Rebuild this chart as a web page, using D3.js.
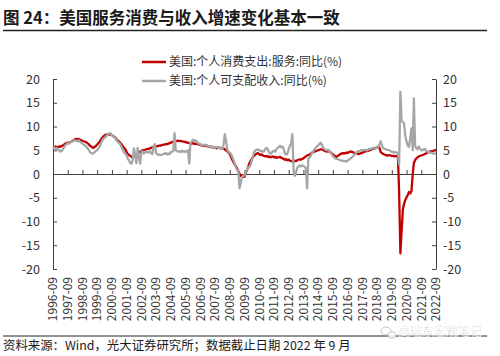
<!DOCTYPE html>
<html><head><meta charset="utf-8">
<script src="https://cdn.jsdelivr.net/npm/d3@7"></script>
<style>body{margin:0;background:#fff}svg{display:block}</style>
</head><body>
<svg id="c" width="500" height="356"></svg>
<script>
const titleText = "图 24：美国服务消费与收入增速变化基本一致";
const sourceText = "资料来源：Wind，光大证券研究所；数据截止日期 2022 年 9 月";
const seriesNames = ["美国:个人消费支出:服务:同比(%)", "美国:个人可支配收入:同比(%)"];
const startMonth = "1996-09";
const tickLabels = ["1996-09","1997-09","1998-09","1999-09","2000-09","2001-09","2002-09","2003-09","2004-09","2005-09","2006-09","2007-09","2008-09","2009-09","2010-09","2011-09","2012-09","2013-09","2014-09","2015-09","2016-09","2017-09","2018-09","2019-09","2020-09","2021-09","2022-09"];
const yTicks = [-20,-15,-10,-5,0,5,10,15,20];

// 美国:个人消费支出:服务:同比(%)  monthly from 1996-09
const serviceYoY = [
  5.7, 5.6, 5.8, 5.7,
  5.6, 5.8, 5.7, 5.9, 6.0, 6.2, 6.4, 6.5, 6.6, 6.5, 6.7, 6.8,
  7.0, 7.1, 7.3, 7.4, 7.3, 7.4, 7.2, 7.1, 7.0, 6.9, 6.8, 6.7,
  6.5, 6.3, 6.0, 5.8, 5.6, 5.5, 5.7, 5.9, 6.2, 6.5, 6.8, 7.2,
  7.6, 7.9, 8.1, 8.3, 8.2, 8.4, 8.3, 8.4, 8.2, 8.0, 7.8, 7.6,
  7.2, 7.0, 6.8, 6.5, 6.2, 5.8, 5.5, 5.2, 4.6, 4.2, 4.0, 3.8,
  3.6, 3.5, 3.6, 3.8, 4.0, 4.2, 4.5, 4.7, 4.8, 5.0, 5.0, 5.1,
  5.2, 5.3, 5.3, 5.4, 5.5, 5.6, 5.7, 5.8, 5.8, 5.9, 5.9, 6.0,
  6.0, 6.1, 6.2, 6.2, 6.3, 6.3, 6.4, 6.5, 6.6, 6.7, 6.8, 6.9,
  6.9, 7.0, 7.0, 6.9, 7.0, 6.9, 6.8, 6.8, 6.7, 6.6, 6.6, 6.5,
  6.5, 6.4, 6.5, 6.4, 6.3, 6.4, 6.3, 6.2, 6.1, 6.0, 6.0, 5.9,
  5.9, 6.0, 5.8, 5.7, 5.8, 5.6, 5.7, 5.5, 5.6, 5.4, 5.5, 5.6,
  5.4, 5.5, 5.3, 5.4, 5.2, 5.0, 4.8, 4.5, 4.2, 3.6, 3.0, 2.5,
  2.0, 1.6, 1.2, 0.6, 0.0, -0.4, -0.6, -0.5, -0.6, 0.2, 0.8, 1.5,
  2.3, 2.7, 3.2, 3.6, 3.9, 4.1, 4.3, 4.4, 4.2, 4.0, 4.1, 3.9,
  3.8, 3.7, 3.8, 3.6, 3.7, 3.5, 3.6, 3.7, 3.5, 3.6, 3.4, 3.5,
  3.5, 3.6, 3.4, 3.3, 3.2, 3.0, 3.1, 2.9, 3.0, 2.8, 2.7, 2.8,
  2.6, 2.8, 2.7, 2.9, 3.0, 3.1, 3.0, 3.2, 3.3, 3.5, 3.7, 3.9,
  4.0, 4.1, 4.3, 4.5, 4.6, 4.7, 4.8, 4.9, 5.0, 5.1, 5.2, 5.2,
  5.1, 4.9, 4.8, 4.7, 4.8, 4.7, 4.6, 4.4, 4.1, 3.9, 3.7, 3.6,
  3.8, 4.0, 4.2, 4.3, 4.4, 4.3, 4.4, 4.5, 4.4, 4.6, 4.7, 4.7,
  4.6, 4.5, 4.3, 4.4, 4.3, 4.2, 4.3, 4.4, 4.5, 4.6, 4.7, 4.8,
  4.8, 4.9, 5.0, 5.1, 5.2, 5.3, 5.4, 5.5, 5.6, 5.7, 5.5, 4.6,
  4.4, 4.2, 4.1, 4.0, 3.9, 3.9, 4.0, 3.9, 3.8, 3.8, 3.7, 3.8,
  3.7, 3.6, -4.0, -16.7, -12.0, -7.5, -6.3, -5.5, -4.9, -4.4, -3.8, -4.1,
  -3.6, 0.0, 2.3, 2.9, 3.3, 3.5, 3.7, 3.8, 3.9, 4.0, 4.1, 4.2,
  4.4, 4.5, 4.6, 4.7, 4.8, 4.8, 4.9, 5.0, 5.1
];

// 美国:个人可支配收入:同比(%)  monthly from 1996-09
const incomeYoY = [
  5.5, 5.6, 5.3, 5.5,
  5.2, 4.9, 4.7, 4.8, 5.2, 5.6, 6.0, 6.3, 6.5, 6.4, 6.6, 6.8,
  6.9, 7.0, 7.1, 7.0, 6.9, 7.1, 6.8, 6.6, 6.4, 6.2, 6.0, 5.8,
  5.5, 5.1, 4.7, 4.4, 4.3, 4.4, 4.6, 4.9, 5.0, 5.3, 5.8, 6.4,
  7.0, 7.4, 7.6, 7.9, 8.1, 8.4, 8.6, 8.5, 8.2, 7.9, 7.7, 7.4,
  7.0, 6.7, 6.5, 6.2, 5.6, 5.0, 4.5, 4.2, 4.0, 3.2, 2.8, 2.3,
  2.2, 3.0, 5.4, 4.0, 2.3, 5.5, 3.4, 2.2, 4.6, 4.8, 4.3, 4.5,
  4.7, 4.6, 4.5, 4.8, 4.4, 4.2, 5.8, 6.3, 4.4, 4.2, 4.0, 4.1,
  4.0, 4.1, 4.2, 4.3, 4.4, 4.1, 4.3, 4.2, 4.6, 4.7, 4.8, 8.6,
  5.0, 4.8, 4.7, 4.8, 4.6, 4.9, 4.7, 4.8, 4.6, 4.9, 5.0, 2.2,
  6.6, 6.8, 7.2, 7.0, 7.1, 6.9, 6.5, 6.4, 6.3, 6.1, 6.2, 6.0,
  6.2, 6.1, 5.9, 5.8, 5.7, 5.6, 5.8, 5.6, 5.5, 5.7, 5.6, 5.5,
  5.6, 5.4, 5.3, 6.2, 8.4, 7.0, 5.2, 4.6, 4.5, 4.2, 3.6, 3.0,
  2.2, 1.4, 0.8, 0.7, -3.0, -1.8, -0.6, -0.4, -0.3, 0.3, 0.9, 1.4,
  1.5, 2.0, 2.8, 3.8, 4.7, 5.0, 5.1, 5.2, 5.0, 4.8, 4.9, 4.7,
  4.8, 5.3, 5.5, 5.2, 4.6, 4.3, 4.4, 4.8, 4.9, 4.7, 5.2, 5.5,
  5.7, 5.9, 5.6, 5.8, 5.2, 4.3, 4.1, 4.3, 5.2, 6.0, 6.3, 8.4,
  0.4, -0.4, 0.3, 1.3, 1.6, 1.8, 1.6, 1.8, 1.7, 1.5, 1.2, -3.0,
  3.2, 3.5, 3.8, 4.3, 4.8, 5.2, 5.5, 5.8, 6.0, 6.3, 6.6, 6.2,
  5.6, 5.3, 5.1, 5.0, 5.1, 4.9, 4.6, 4.2, 3.8, 3.5, 3.3, 3.2,
  3.1, 3.0, 2.9, 2.8, 2.8, 2.7, 2.7, 2.6, 2.8, 3.0, 3.2, 3.4,
  3.6, 3.9, 4.2, 4.5, 4.7, 4.8, 4.9, 5.0, 5.0, 5.0, 5.1, 5.0,
  5.0, 5.2, 5.3, 5.3, 5.4, 5.5, 5.3, 5.4, 5.5, 5.8, 6.2, 6.9,
  5.9, 5.5, 5.3, 5.2, 5.1, 5.1, 5.0, 4.8, 4.7, 4.6, 4.5, 4.6,
  4.5, 4.2, 2.0, 17.3, 11.2, 11.0, 10.6, 8.0, 6.8, 6.0, 5.7, 7.5,
  9.6, 5.0, 15.9, 6.0, 5.4, 5.2, 5.8, 5.3, 5.0, 5.0, 5.2, 5.3,
  4.8, 4.7, 4.6, 4.5, 4.5, 4.4, 4.3, 4.3, 4.4
];

const FONT = "'Noto Sans CJK SC','Noto Sans',sans-serif";
const RED = "#C00000", GRAY = "#A6A6A6", INK = "#333333";
const svg = d3.select("#c").style("font-family", FONT);
const parse = d3.timeParse("%Y-%m");
const t0 = parse(startMonth);
const dates = serviceYoY.map((_, i) => d3.timeMonth.offset(t0, i));

const x = d3.scaleTime().domain([parse(tickLabels[0]), parse(tickLabels[tickLabels.length-1])]).range([53, 436]);
const y = d3.scaleLinear().domain([-20, 20]).range([269, 79]);
const fmtY = d => String(d);

// title
svg.append("text").attr("x", 3).attr("y", 24).attr("font-size", 16.5).attr("font-weight", "bold")
  .attr("fill", "#1a1a1a").text(titleText);
svg.append("line").attr("x1", 3).attr("x2", 487).attr("y1", 30.5).attr("y2", 30.5)
  .attr("stroke", "#222").attr("stroke-width", 1.3);

// legend
const legend = svg.append("g");
[[RED, seriesNames[0], 62], [GRAY, seriesNames[1], 81]].forEach(([c, t, ly]) => {
  legend.append("line").attr("x1", 142).attr("x2", 166).attr("y1", ly).attr("y2", ly)
    .attr("stroke", c).attr("stroke-width", 2.5);
  legend.append("text").attr("x", 169).attr("y", ly).attr("dy", "0.36em").attr("font-size", 12)
    .attr("fill", INK).text(t);
});

// axes
function styleAxis(g) {
  g.selectAll("path,line").attr("stroke", "#404040").attr("stroke-width", 1);
  g.selectAll("text").attr("fill", INK).attr("font-size", 12.5).attr("font-family", FONT);
}
svg.append("g").attr("transform", "translate(53,0)")
  .call(d3.axisLeft(y).tickValues(yTicks).tickFormat(fmtY).tickSizeInner(-4).tickSizeOuter(0).tickPadding(13))
  .call(styleAxis);
svg.append("g").attr("transform", "translate(436,0)")
  .call(d3.axisRight(y).tickValues(yTicks).tickFormat(fmtY).tickSizeInner(-4).tickSizeOuter(0).tickPadding(7))
  .call(styleAxis);
// zero line with yearly ticks
svg.append("g").attr("transform", `translate(0,${y(0)})`)
  .call(d3.axisBottom(x).tickValues(tickLabels.map(parse)).tickSizeInner(-4).tickSizeOuter(0).tickFormat(""))
  .call(styleAxis);

// x labels (rotated)
svg.append("g").selectAll("text").data(tickLabels).join("text")
  .attr("transform", d => `translate(${x(parse(d))},277) rotate(-90)`)
  .attr("text-anchor", "end").attr("dy", "0.36em").attr("font-size", 12).attr("fill", INK)
  .text(d => d);

// lines
const line = d3.line().x((d, i) => x(dates[i])).y(d => y(d));
svg.append("path").datum(serviceYoY).attr("d", line).attr("fill", "none")
  .attr("stroke", RED).attr("stroke-width", 2.3).attr("stroke-linejoin", "round");
svg.append("path").datum(incomeYoY).attr("d", line).attr("fill", "none")
  .attr("stroke", GRAY).attr("stroke-width", 2.3).attr("stroke-linejoin", "round");

// footer
svg.append("line").attr("x1", 3).attr("x2", 487).attr("y1", 336).attr("y2", 336)
  .attr("stroke", "#222").attr("stroke-width", 1);
svg.append("text").attr("x", 3).attr("y", 350).attr("font-size", 12.4).attr("fill", "#1a1a1a")
  .text(sourceText);

// watermark
const wm = svg.append("g").attr("opacity", 0.85);
wm.append("ellipse").attr("cx", 386).attr("cy", 331).attr("rx", 5).attr("ry", 4)
  .attr("fill", "none").attr("stroke", "#bdbdbd").attr("stroke-width", 1);
wm.append("ellipse").attr("cx", 392).attr("cy", 335).attr("rx", 4).attr("ry", 3.3)
  .attr("fill", "#fff").attr("stroke", "#bdbdbd").attr("stroke-width", 1);
wm.append("text").attr("x", 398).attr("y", 332).attr("dy", "0.36em").attr("font-size", 12)
  .attr("fill", "#c4c4c4").attr("stroke", "#fff").attr("stroke-width", 0.4).text("高瑞东宏观笔记");
</script>
</body></html>
